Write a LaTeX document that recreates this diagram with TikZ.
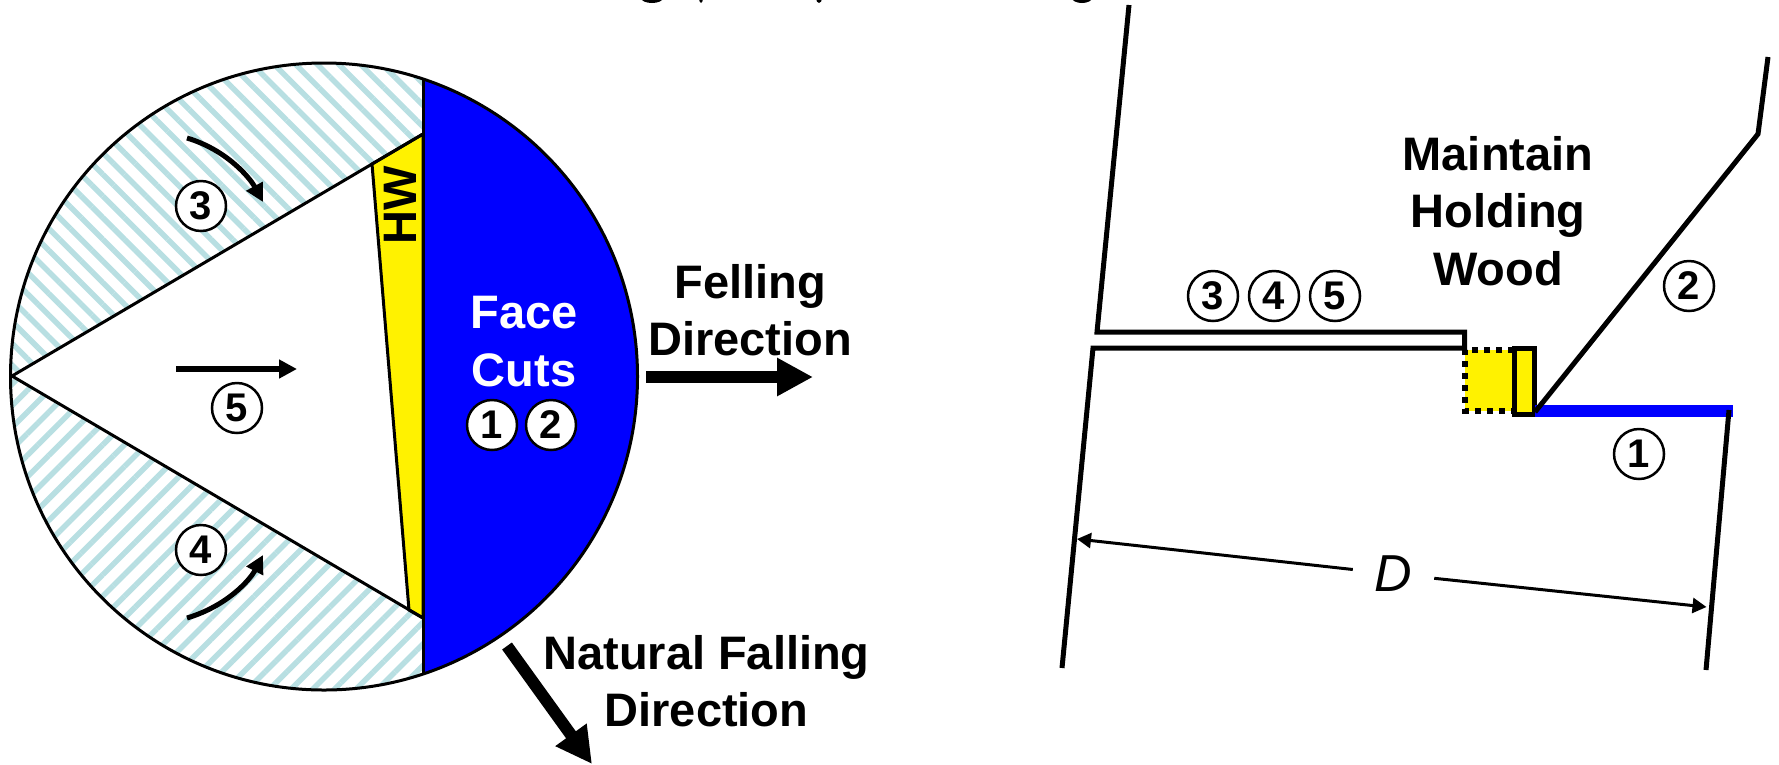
\documentclass[tikz,border=0pt]{standalone}
\usepackage{fontspec}
\setmainfont{Liberation Sans}
\usetikzlibrary{positioning,arrows.meta,patterns.meta}
\definecolor{hatchteal}{RGB}{184,223,226}
\newcommand{\bigfont}{\fontsize{47}{57.5}\selectfont\bfseries}

\begin{document}
\begin{tikzpicture}[x=1pt,y=-1pt,
        cutnum/.style={draw, circle, fill=white, minimum size=50pt, inner sep=0pt, outer sep=0pt, line width=2.5pt, font=\fontsize{40}{40}\selectfont\bfseries},
        label/.style={align=center, inner sep=0pt, font=\bigfont},
        cutarrow/.style={-{Triangle[length=18pt,width=18pt]}, line width=5pt},
        bigarrow/.style={-{Triangle[length=36pt,width=36pt]}, line width=12pt},
        dimarrow/.style={-{Triangle[length=14pt,width=15pt]}, line width=3pt},
        trunk/.style={line width=5pt, miter limit=20}
    ]
    \useasboundingbox (0,0) rectangle (1779,764);

    % stump, seen from above
    \begin{scope}
        \clip (324,376.5) circle (313.5);
        \fill [pattern={Lines[angle=-45,distance=15.3pt,line width=5.5pt]}, pattern color=hatchteal] (12,376) -- (423,134) -- (423,0) -- (0,0) -- (0,376) -- cycle;
        \fill [pattern={Lines[angle=45,distance=15.3pt,line width=5.5pt]}, pattern color=hatchteal] (12,376) -- (423,618) -- (423,764) -- (0,764) -- (0,376) -- cycle;
        \fill [blue] (423,0) rectangle (700,764);
    \end{scope}
    \draw [fill=yellow, line width=3pt] (372,164) -- (423,134) -- (423,618) -- (409,610) -- cycle;
    \draw [line width=3pt] (423,134) -- (12,376) -- (423,618);
    \draw [line width=3pt] (423,79) -- (423,673);
    \draw [line width=3pt] (324,376.5) circle (313.5);

    \node (hw) [label, rotate=90] at (400.5,205) {HW};
    \node (face) [label, text=white] at (524,341.5) {Face\\Cuts};
    \node (fone) [cutnum] at (492,425) {1};
    \node (ftwo) [cutnum, right=9pt of fone] {2};
    \node (bthree) [cutnum] at (201,206) {3};
    \node (bfour) [cutnum] at (201,550) {4};
    \node (bfive) [cutnum] at (237,408) {5};

    \coordinate (tl) at (187,138);
    \coordinate (tr) at (263,202);
    \coordinate (ll) at (187,618);
    \coordinate (lr) at (263,555);
    \coordinate (ml) at (176,369);
    \coordinate (mr) at (297,369);
    \draw [cutarrow] (tl) .. controls (227,150) and (250,178) .. (tr);
    \draw [cutarrow] (ll) .. controls (227,606) and (250,580) .. (lr);
    \draw [cutarrow, line width=6.5pt] (ml) -- (mr);

    \node (felling) [label] at (750,310) {Felling\\Direction};
    \node (natural) [label] at (706.5,681) {Natural Falling\\Direction};
    \coordinate (fa) at (646,377);
    \coordinate (fb) at (813,377);
    \coordinate (na) at (507,646);
    \coordinate (nb) at (592,764);
    \draw [bigarrow] (fa) -- (fb);
    \draw [bigarrow] (na) -- (nb);

    % side view of the trunk
    \fill [yellow] (1465,350) rectangle (1514,411);
    \draw [line width=6pt, dash pattern=on 6pt off 6pt] (1514,350) -- (1465,350) -- (1465,411) -- (1514,411);
    \draw [fill=yellow, line width=5pt] (1514,348) rectangle (1534,414);
    \draw [blue, line width=12pt] (1535,411) -- (1733,411);
    \draw [trunk] (1129,5) -- (1097,332) -- (1464.5,332) -- (1464.5,348) -- (1093,348) -- (1062,668);
    \draw [trunk] (1535,412) -- (1758,134) -- (1768,57);
    \draw [trunk] (1729,410) -- (1706,670);

    \node (hold) [label] at (1498,211) {Maintain\\Holding\\Wood};
    \node (sthree) [cutnum] at (1213,296) {3};
    \node (sfour) [cutnum, right=11pt of sthree] {4};
    \node (sfive) [cutnum, right=11pt of sfour] {5};
    \node (stwo) [cutnum] at (1689,286) {2};
    \node (sone) [cutnum] at (1639,454) {1};

    \node (dia) [minimum width=81pt, inner sep=0pt, font=\fontsize{52}{52}\selectfont\itshape] at (1393.5,574) {D};
    \coordinate (dl) at (1077,539);
    \coordinate (dr) at (1706.5,607);
    \draw [dimarrow] (dia) -- (dl);
    \draw [dimarrow] (dia) -- (dr);

    % what is left of the cropped heading
    \foreach \x/\w in {652/11,701/2,819/3,1082/10}
        \fill (\x,-2) ellipse [x radius=\w, y radius=5];
\end{tikzpicture}
\end{document}
